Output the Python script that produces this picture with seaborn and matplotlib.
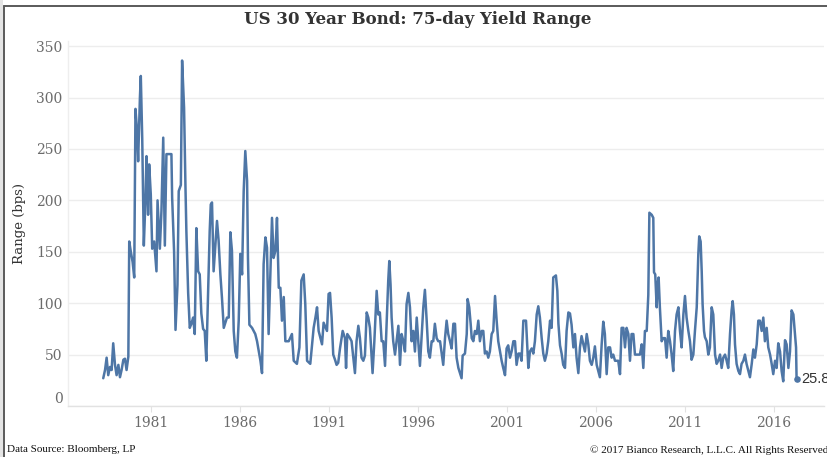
import matplotlib
matplotlib.use("Agg")
import matplotlib.pyplot as plt
from matplotlib.lines import Line2D
from matplotlib.patches import Rectangle
import numpy as np
import pandas as pd
import seaborn as sns

# 75-day high/low range of the US 30-year bond yield, in basis points,
# as (decimal year, range) pairs grouped by period.
range_1978_1984 = [
    (1978.32, 27), (1978.42, 35), (1978.51, 47), (1978.60, 30), (1978.70, 38),
    (1978.79, 35), (1978.88, 61), (1978.98, 40), (1979.07, 30), (1979.17, 40),
    (1979.26, 28), (1979.35, 35), (1979.45, 45), (1979.54, 46), (1979.63, 35),
    (1979.73, 48), (1979.78, 160), (1979.87, 150), (1979.97, 140), (1980.06, 125),
    (1980.13, 289), (1980.21, 270), (1980.28, 238), (1980.38, 300), (1980.43, 321),
    (1980.51, 260), (1980.60, 156), (1980.69, 200), (1980.75, 243), (1980.84, 186),
    (1980.90, 235), (1980.99, 206), (1981.07, 153), (1981.18, 160), (1981.31, 131),
    (1981.37, 200), (1981.50, 153), (1981.59, 190), (1981.69, 261), (1981.78, 156),
    (1981.87, 245), (1982.15, 245), (1982.19, 203), (1982.30, 150), (1982.38, 74),
    (1982.49, 118), (1982.56, 209), (1982.68, 215), (1982.75, 336), (1982.86, 290),
    (1982.94, 212), (1982.99, 170), (1983.09, 110), (1983.18, 76), (1983.27, 80),
    (1983.37, 86), (1983.46, 70), (1983.55, 173), (1983.65, 131), (1983.74, 128),
    (1983.83, 90), (1983.93, 75), (1984.02, 73), (1984.11, 44), (1984.21, 110),
    (1984.30, 170), (1984.36, 196),
]

range_1984_1990 = [
    (1984.43, 198), (1984.52, 131), (1984.71, 180), (1984.80, 161), (1984.90, 128),
    (1984.99, 105), (1985.09, 76), (1985.27, 86), (1985.37, 86), (1985.46, 169),
    (1985.55, 151), (1985.65, 73), (1985.74, 53), (1985.83, 47), (1985.93, 83),
    (1986.02, 148), (1986.12, 128), (1986.21, 209), (1986.30, 248), (1986.40, 219),
    (1986.45, 144), (1986.53, 79), (1986.68, 76), (1986.86, 70), (1986.96, 63),
    (1987.15, 44), (1987.24, 32), (1987.33, 138), (1987.43, 164), (1987.52, 154),
    (1987.61, 70), (1987.71, 131), (1987.80, 183), (1987.89, 144), (1987.99, 151),
    (1988.08, 183), (1988.18, 115), (1988.27, 115), (1988.36, 83), (1988.46, 106),
    (1988.55, 63), (1988.74, 63), (1988.92, 70), (1989.02, 44), (1989.20, 41),
    (1989.34, 57), (1989.45, 122), (1989.58, 128), (1989.67, 99), (1989.77, 44),
    (1989.95, 41), (1990.14, 76), (1990.24, 86), (1990.33, 96), (1990.42, 73),
    (1990.61, 60), (1990.70, 81), (1990.89, 73), (1990.98, 109),
]

range_1991_1997 = [
    (1991.06, 110), (1991.15, 86), (1991.24, 50), (1991.34, 45), (1991.43, 40),
    (1991.52, 42), (1991.62, 56), (1991.77, 73), (1991.90, 66), (1991.96, 37),
    (1992.03, 70), (1992.18, 66), (1992.27, 63), (1992.37, 47), (1992.46, 32),
    (1992.55, 63), (1992.65, 78), (1992.74, 66), (1992.83, 47), (1992.93, 44),
    (1993.02, 49), (1993.12, 91), (1993.21, 86), (1993.30, 76), (1993.40, 47),
    (1993.45, 32), (1993.55, 63), (1993.68, 112), (1993.77, 89), (1993.86, 91),
    (1993.96, 63), (1994.05, 63), (1994.15, 39), (1994.24, 80), (1994.33, 122),
    (1994.39, 141), (1994.46, 118), (1994.52, 86), (1994.61, 63), (1994.71, 50),
    (1994.80, 63), (1994.90, 78), (1994.99, 40), (1995.08, 70), (1995.18, 63),
    (1995.27, 53), (1995.36, 99), (1995.46, 110), (1995.55, 96), (1995.64, 63),
    (1995.74, 73), (1995.83, 53), (1995.93, 86), (1996.02, 63), (1996.11, 39),
    (1996.21, 70), (1996.30, 96), (1996.39, 113), (1996.49, 83), (1996.58, 53),
    (1996.67, 47), (1996.77, 63), (1996.86, 63), (1996.95, 80), (1997.05, 66),
    (1997.14, 63), (1997.24, 63), (1997.42, 40), (1997.52, 66), (1997.61, 83),
    (1997.70, 70),
]

range_1997_2004 = [
    (1997.80, 63), (1997.89, 56), (1997.99, 80), (1998.08, 80), (1998.17, 47),
    (1998.27, 37), (1998.36, 32), (1998.45, 27), (1998.51, 49), (1998.64, 51),
    (1998.74, 70), (1998.79, 104), (1998.88, 96), (1998.96, 80), (1999.02, 66),
    (1999.11, 63), (1999.20, 73), (1999.30, 70), (1999.39, 83), (1999.48, 63),
    (1999.58, 73), (1999.67, 73), (1999.76, 51), (1999.86, 53), (1999.95, 47),
    (2000.04, 53), (2000.14, 70), (2000.23, 73), (2000.33, 107), (2000.42, 83),
    (2000.51, 63), (2000.61, 53), (2000.70, 44), (2000.79, 37), (2000.89, 30),
    (2000.98, 56), (2001.07, 59), (2001.17, 47), (2001.26, 53), (2001.36, 63),
    (2001.45, 63), (2001.54, 40), (2001.64, 51), (2001.73, 51), (2001.82, 44),
    (2001.92, 83), (2002.07, 83), (2002.14, 59), (2002.20, 37), (2002.29, 53),
    (2002.39, 56), (2002.48, 51), (2002.57, 63), (2002.67, 89), (2002.76, 97),
    (2002.85, 86), (2002.95, 66), (2003.04, 51), (2003.13, 44), (2003.23, 51),
    (2003.32, 63), (2003.42, 83), (2003.51, 76), (2003.60, 125), (2003.75, 127),
    (2003.83, 112), (2003.89, 80), (2003.98, 59), (2004.07, 51), (2004.16, 40),
    (2004.26, 37), (2004.35, 73), (2004.45, 91),
]

range_2004_2011 = [
    (2004.54, 90), (2004.63, 79), (2004.73, 57), (2004.82, 70), (2004.91, 47),
    (2005.01, 32), (2005.10, 57), (2005.19, 68), (2005.29, 60), (2005.38, 53),
    (2005.48, 70), (2005.57, 60), (2005.66, 44), (2005.76, 40), (2005.85, 47),
    (2005.94, 58), (2006.04, 40), (2006.13, 34), (2006.22, 28), (2006.32, 60),
    (2006.41, 82), (2006.50, 70), (2006.60, 31), (2006.69, 57), (2006.79, 57),
    (2006.88, 47), (2006.97, 50), (2007.07, 44), (2007.16, 44), (2007.25, 44),
    (2007.35, 31), (2007.44, 76), (2007.54, 76), (2007.63, 57), (2007.72, 76),
    (2007.82, 70), (2007.91, 44), (2008.00, 70), (2008.10, 70), (2008.19, 50),
    (2008.28, 50), (2008.38, 50), (2008.47, 50), (2008.57, 60), (2008.66, 37),
    (2008.75, 73), (2008.85, 73), (2008.94, 108), (2009.00, 188), (2009.13, 186),
    (2009.22, 183), (2009.26, 130), (2009.33, 128), (2009.41, 96), (2009.46, 118),
    (2009.52, 125), (2009.59, 96), (2009.69, 63), (2009.78, 66), (2009.88, 66),
    (2009.97, 47), (2010.06, 73), (2010.16, 63), (2010.25, 50), (2010.34, 34),
    (2010.44, 73), (2010.53, 89), (2010.63, 96), (2010.72, 73), (2010.81, 57),
    (2010.91, 89), (2011.00, 107), (2011.09, 86), (2011.19, 73),
]

range_2011_2017 = [
    (2011.28, 63), (2011.37, 45), (2011.47, 50), (2011.56, 73), (2011.66, 96),
    (2011.75, 148), (2011.80, 165), (2011.88, 160), (2011.94, 131), (2011.99, 99),
    (2012.07, 73), (2012.12, 67), (2012.22, 63), (2012.31, 50), (2012.40, 57),
    (2012.50, 96), (2012.59, 89), (2012.69, 50), (2012.78, 41), (2012.87, 44),
    (2012.97, 50), (2013.06, 37), (2013.15, 47), (2013.25, 50), (2013.34, 44),
    (2013.43, 37), (2013.53, 70), (2013.62, 93), (2013.68, 102), (2013.75, 89),
    (2013.81, 60), (2013.90, 41), (2014.00, 34), (2014.09, 31), (2014.18, 41),
    (2014.28, 44), (2014.37, 50), (2014.46, 41), (2014.56, 34), (2014.65, 28),
    (2014.75, 41), (2014.84, 55), (2014.93, 47), (2015.03, 60), (2015.12, 83),
    (2015.21, 83), (2015.31, 73), (2015.40, 86), (2015.49, 63), (2015.59, 76),
    (2015.68, 57), (2015.78, 50), (2015.87, 41), (2015.96, 31), (2016.06, 44),
    (2016.15, 37), (2016.24, 61), (2016.34, 53), (2016.43, 34), (2016.52, 24),
    (2016.62, 64), (2016.71, 60), (2016.81, 37), (2016.90, 53), (2016.99, 93),
    (2017.09, 89), (2017.18, 70), (2017.24, 57), (2017.27, 25.8),
]

year_ticks = [1981, 1986, 1991, 1996, 2001, 2006, 2011, 2016]
bps_ticks = [0, 50, 100, 150, 200, 250, 300, 350]

title_text = "US 30 Year Bond: 75-day Yield Range"
y_label = "Range (bps)"
source_text = "Data Source: Bloomberg, LP"
copyright_text = "\u00a9 2017 Bianco Research, L.L.C. All Rights Reserved"

df = pd.DataFrame(
    range_1978_1984 + range_1984_1990 + range_1991_1997
    + range_1997_2004 + range_2004_2011 + range_2011_2017,
    columns=["year", "bps"],
)

sns.set_theme(style="white")
plt.rcParams["font.family"] = ["DejaVu Serif"]

LINE = "#4e76a6"
GRID = "#ededed"
TICK_TXT = "#6b6b6b"

W, H = 828, 457
fig = plt.figure(figsize=(W / 100, H / 100), dpi=100)
fig.patch.set_facecolor("white")

ax_left, ax_right, ax_top, ax_bottom = 68, 824, 41, 406
ax = fig.add_axes([ax_left / W, 1 - ax_bottom / H,
                   (ax_right - ax_left) / W, (ax_bottom - ax_top) / H])

sns.lineplot(data=df, x="year", y="bps", color=LINE, linewidth=1.8,
             ax=ax, sort=False, zorder=3)

last = df.iloc[-1]
ax.scatter([last["year"]], [last["bps"]], s=14, color=LINE, zorder=4)
ax.annotate(f"{last['bps']:.1f}", (last["year"], last["bps"]),
            xytext=(3, 0), textcoords="offset points", va="center", ha="left",
            fontsize=10.5, color="#333333", family=["Liberation Sans"],
            annotation_clip=False)

ax.set_xlim(1976.34, 2018.81)
ax.set_ylim(0, 355)
ax.set_xticks(year_ticks)
ax.set_xticklabels([str(y) for y in year_ticks])
ax.set_yticks(bps_ticks)
ax.set_yticklabels([str(v) for v in bps_ticks])

ax.grid(axis="y", color=GRID, linewidth=1.0)
ax.grid(axis="x", visible=False)
for side in ["top", "right"]:
    ax.spines[side].set_visible(False)
ax.spines["left"].set_color("#eeeeee")
ax.spines["left"].set_linewidth(1.0)
ax.spines["bottom"].set_color("#e2e2e2")
ax.spines["bottom"].set_linewidth(1.0)

ax.tick_params(axis="x", length=4, width=0.8, color="#e2e2e2", pad=3,
               labelsize=10, labelcolor=TICK_TXT, bottom=True)
ax.tick_params(axis="y", length=0, pad=4, labelsize=10, labelcolor=TICK_TXT)
for lab in ax.get_yticklabels():
    if lab.get_text() == "0":
        lab.set_verticalalignment("bottom")

ax.set_xlabel("")
ax.set_ylabel(y_label, fontsize=9.5, color="#333333")
ax.yaxis.set_label_coords((26 - ax_left) / (ax_right - ax_left), 0.5)

fig.text(0.504, 1 - 20 / H, title_text, ha="center", va="center",
         fontsize=12, fontweight="bold", color="#333333")
fig.text(7 / W, 1 - 450 / H, source_text, ha="left", va="center",
         fontsize=8, color="#111111", family=["Liberation Serif"])
fig.text(828 / W, 1 - 450 / H, copyright_text, ha="right", va="center",
         fontsize=8, color="#111111", family=["Liberation Serif"])

# outer frame: grey strip and dark rule on the left, dark rule on top
fig.add_artist(Rectangle((0, 0), 3.5 / W, 1, transform=fig.transFigure,
                         color="#e4e4e4", lw=0, zorder=0))
fig.add_artist(Line2D([4.5 / W, 4.5 / W], [0, 1 - 6 / H],
                      transform=fig.transFigure, color="#5a5a5a", lw=1.4))
fig.add_artist(Line2D([4.5 / W, 1], [1 - 6 / H, 1 - 6 / H],
                      transform=fig.transFigure, color="#5a5a5a", lw=1.4))

fig.savefig("out.png", dpi=100, facecolor="white")
